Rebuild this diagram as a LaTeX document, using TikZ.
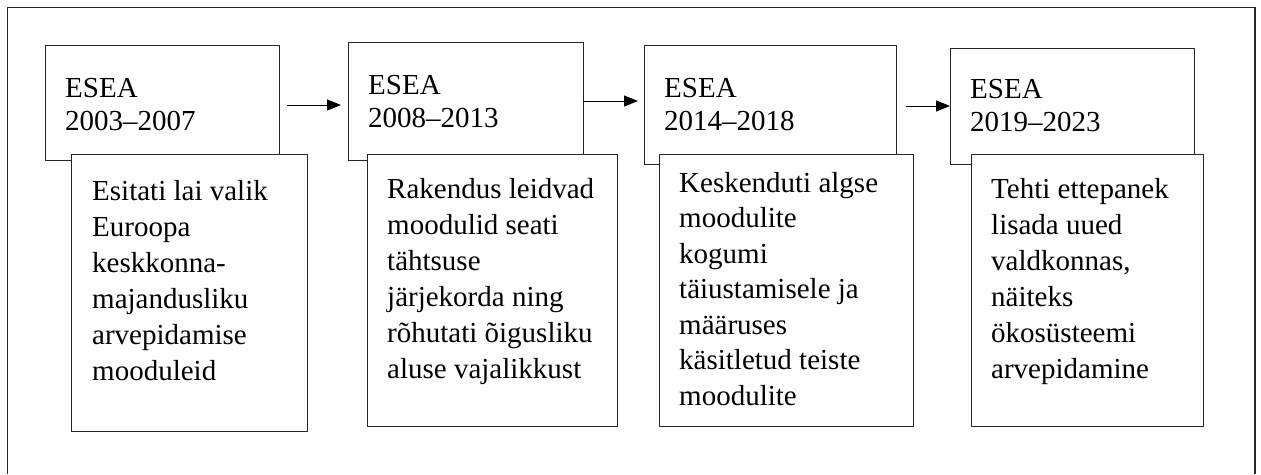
\documentclass[tikz,border=0pt]{standalone}
\usepackage{fontspec}
\setmainfont{Liberation Serif}
\usetikzlibrary{arrows.meta}
\begin{document}
\begin{tikzpicture}[x=1pt,y=-1pt,
  topbox/.style={draw=black!85,line width=1pt,fill=white,anchor=north west,inner sep=0pt,outer sep=0pt},
  botbox/.style={draw=black!85,line width=1pt,fill=white,anchor=north west,inner sep=0pt,outer sep=0pt},
  toptxt/.style={anchor=base west,inner sep=0pt,align=left,font=\fontsize{29}{33}\selectfont},
  bottxt/.style={anchor=base west,inner sep=0pt,align=left,font=\fontsize{29}{36}\selectfont},
  arr/.style={-{Triangle[length=14pt,width=11pt]},line width=1pt,black}]
\useasboundingbox (0,0) rectangle (1261,474);
\draw[line width=1.2pt,black!85] (7.5,474) -- (7.5,7.5) -- (1255,7.5) -- (1255,474);
% top boxes
\node[topbox,minimum width=234pt,minimum height=115pt] (t1) at (45,45) {};
\node[topbox,minimum width=235pt,minimum height=118pt] (t2) at (348,42) {};
\node[topbox,minimum width=252pt,minimum height=119pt] (t3) at (644,45) {};
\node[topbox,minimum width=244pt,minimum height=116pt] (t4) at (950,48) {};
% bottom boxes
\node[botbox,minimum width=236pt,minimum height=277pt] (b1) at (71,154) {};
\node[botbox,minimum width=250pt,minimum height=272pt] (b2) at (367,154) {};
\node[botbox,minimum width=254pt,minimum height=272pt] (b3) at (659,154) {};
\node[botbox,minimum width=232pt,minimum height=272pt] (b4) at (971,154) {};
% top texts (anchor at baseline of last line)
\node[toptxt] (l1) at (65,130) {ESEA\\2003--2007};
\node[toptxt] (l2) at (368,127) {ESEA\\2008--2013};
\node[toptxt] (l3) at (664,130) {ESEA\\2014--2018};
\node[toptxt] (l4) at (970,131) {ESEA\\2019--2023};
% bottom texts
\node[bottxt] (d1) at (92,380) {Esitati lai valik\\Euroopa\\keskkonna-\\majandusliku\\arvepidamise\\mooduleid};
\node[bottxt] (d2) at (387,378) {Rakendus leidvad\\moodulid seati\\tähtsuse\\järjekorda ning\\rõhutati õigusliku\\aluse vajalikkust};
\node[bottxt,font=\fontsize{29}{35.5}\selectfont] (d3) at (679,405) {Keskenduti algse\\moodulite\\kogumi\\täiustamisele ja\\määruses\\käsitletud teiste\\moodulite};
\node[bottxt] (d4) at (991,378) {Tehti ettepanek\\lisada uued\\valdkonnas,\\näiteks\\ökosüsteemi\\arvepidamine};
% arrows
\draw[arr,shorten <=8pt,shorten >=7pt] ([yshift=-2.5pt]t1.east) -- ([yshift=-2.5pt]t1.east -| t2.west);
\draw[arr,shorten >=6pt] (t2.east) -- (t2.east -| t3.west);
\draw[arr,shorten <=10pt] (t4.west -| t3.east) -- (t4.west);
\end{tikzpicture}
\end{document}
